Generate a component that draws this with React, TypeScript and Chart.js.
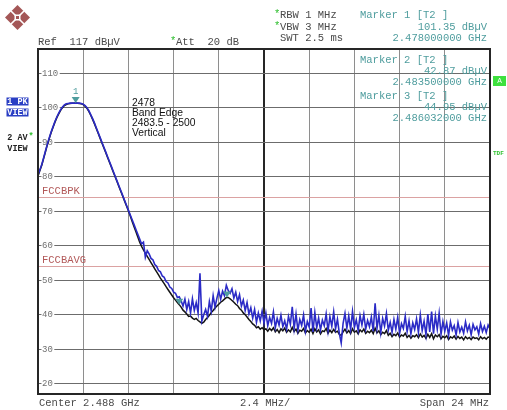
import React, { useEffect, useRef } from "react";
import { Chart, registerables } from "chart.js";

Chart.register(...registerables);

// ---- data (frequency in MHz, level in dBµV) ----
const START_MHZ = 2476;
const STEP_MHZ = 0.1;
const STOP_MHZ = 2500;
const REF_LEVEL = 117;
const BOTTOM_LEVEL = 17;

const peakTrace = [
  80.5, 82, 83.5, 85.5, 87.5, 89.5, 91.3, 93, 94.5, 96,
  97.3, 98.4, 99.4, 100.2, 100.8, 101.1, 101.2, 101.3, 101.3, 101.3,
  101.35, 101.3, 101.3, 101.2, 101, 100.6, 100, 99.1, 98, 96.8,
  95.5, 94.1, 92.7, 91.3, 89.9, 88.5, 87.1, 85.7, 84.3, 82.9,
  81.5, 80.1, 78.7, 77.3, 75.9, 74.5, 73.1, 71.7, 70.3, 68.9,
  67.5, 66.1, 64.7, 63.3, 61.9, 60.5, 61, 56.6, 58.5, 57.6,
  56.3, 55.9, 54.5, 54.0, 52.8, 52.4, 51.2, 50.8, 49.6, 49.2,
  48.0, 47.6, 46.5, 46.2, 45.0, 45.2, 44.0, 42.5, 44.5, 41.5,
  43.8, 40.5, 44.6, 41.2, 43.5, 40.5, 52.0, 38.2, 40.0, 41.5,
  39.5, 43.8, 41.0, 45.5, 42.2, 44.8, 47.0, 44.5, 46.8, 45.5,
  48.5, 47.0, 46.2, 47.5, 44.8, 46.5, 43.8, 45.8, 42.5, 44.2,
  41.2, 43.5, 40.2, 42.0, 39.0, 41.5, 37.8, 40.5, 38.2, 41.0,
  37.5, 40.5, 36.8, 39.2, 37.5, 40.8, 36.2, 38.9, 37.0, 39.8,
  36.5, 38.2, 35.8, 39.5, 37.2, 42.3, 36.0, 40.2, 35.5, 38.6,
  36.9, 39.9, 35.2, 38.0, 36.4, 41.9, 35.0, 40.6, 36.2, 39.0,
  35.6, 38.4, 36.8, 40.2, 35.3, 39.4, 36.6, 40.8, 35.9, 38.7,
  34.6, 31.8, 37.5, 40.4, 36.1, 39.6, 35.7, 40.9, 36.3, 38.5,
  35.4, 39.7, 37.0, 40.1, 35.8, 38.3, 36.5, 39.3, 35.2, 43.3,
  36.0, 39.8, 34.8, 38.9, 36.7, 40.3, 35.5, 37.8, 34.9, 38.6,
  35.8, 39.2, 34.6, 37.4, 36.0, 39.5, 35.1, 38.2, 34.4, 37.6,
  35.7, 38.8, 34.9, 39.9, 35.4, 38.1, 34.2, 40.2, 35.0, 40.9,
  34.5, 39.6, 35.8, 40.4, 34.3, 38.0, 35.2, 37.6, 34.0, 37.9,
  35.5, 36.8, 34.1, 37.7, 35.0, 36.4, 34.6, 37.9, 35.3, 36.9,
  34.2, 37.2, 35.6, 36.5, 34.4, 37.4, 35.1, 36.6, 34.8, 37.0,
  35.9,
];

const avgTrace = [
  80.2, 81.8, 83.3, 85.3, 87.3, 89.3, 91.1, 92.8, 94.3, 95.8,
  97.1, 98.2, 99.2, 100.0, 100.6, 100.9, 101.1, 101.2, 101.3, 101.3,
  101.35, 101.3, 101.2, 101.1, 100.9, 100.4, 99.8, 98.9, 97.8, 96.6,
  95.3, 93.9, 92.5, 91.1, 89.7, 88.3, 86.9, 85.5, 84.1, 82.7,
  81.3, 79.9, 78.5, 77.1, 75.7, 74.3, 72.9, 71.5, 70.1, 68.6,
  67.0, 65.5, 64.0, 62.5, 61.0, 59.8, 58.8, 57.8, 56.9, 56.0,
  55.1, 54.2, 53.3, 52.4, 51.5, 50.6, 49.8, 49.0, 48.1, 47.3,
  46.5, 45.7, 44.9, 44.2, 43.5, 42.9, 42.2, 41.3, 40.8, 40.2,
  39.5, 39.6, 39.0, 38.6, 38.9, 38.3, 37.9, 37.5, 37.8, 38.6,
  39.2, 39.8, 40.6, 41.2, 41.9, 42.5, 43.0, 43.6, 44.0, 44.5,
  44.95, 45.0, 44.6, 44.1, 43.6, 43.0, 42.6, 41.8, 41.3, 40.5,
  40.0, 39.3, 38.6, 38.0, 37.3, 36.9, 36.2, 36.5, 35.8, 36.2,
  35.6, 35.9, 35.2, 36.0, 35.4, 36.2, 35.0, 35.7, 34.8, 35.9,
  35.3, 36.1, 34.9, 35.6, 35.0, 36.3, 35.1, 35.8, 34.6, 35.5,
  35.2, 36.0, 34.7, 35.4, 34.9, 35.8, 34.5, 35.9, 35.0, 35.6,
  34.4, 35.3, 35.1, 36.0, 34.6, 35.5, 34.8, 35.7, 34.9, 35.2,
  34.3, 34.0, 35.0, 35.8, 34.7, 35.4, 34.5, 35.9, 34.9, 35.3,
  34.4, 35.6, 35.0, 35.8, 34.6, 35.2, 34.8, 35.5, 34.5, 36.1,
  34.7, 35.3, 34.2, 34.9, 34.5, 35.4, 34.0, 34.6, 33.6, 34.3,
  33.9, 34.7, 33.5, 34.1, 33.8, 34.6, 33.4, 34.0, 33.2, 33.9,
  33.6, 34.2, 33.3, 34.4, 33.5, 34.0, 33.1, 34.3, 33.4, 34.5,
  33.0, 34.1, 33.6, 34.2, 33.0, 33.7, 33.3, 33.9, 32.8, 33.6,
  33.2, 33.8, 32.9, 33.7, 33.1, 33.5, 32.7, 33.6, 33.0, 33.4,
  32.8, 33.5, 33.1, 33.3, 32.7, 33.6, 33.0, 33.4, 32.9, 33.5,
  33.4,
];

const levelTicks = [110, 100, 90, 80, 70, 60, 50, 40, 30, 20];
const freqGrid = [2476, 2478.4, 2480.8, 2483.2, 2485.6, 2488, 2490.4, 2492.8, 2495.2, 2497.6, 2500];
const limitNames = ["FCCBPK", "FCCBAVG"];
const limitLevels = [74, 54];
const markerNumbers = ["1", "2", "3"];
const markerFreqs = [2478, 2483.5, 2486.032];
const markerLevels = [101.35, 42.87, 44.95];
const markerLevelLabels = ["101.35 dBµV", "42.87 dBµV", "44.95 dBµV"];
const markerFreqLabels = ["2.478000000 GHz", "2.483500000 GHz", "2.486032000 GHz"];
const noteLines = ["2478", "Band Edge", "2483.5 - 2500", "Vertical"];

const MONO = '"Liberation Mono", "DejaVu Sans Mono", monospace';
const SANS = '"Liberation Sans", Arial, sans-serif';
const TEAL = "#4f9d9e";
const HEAD = "#4a4a4a";

function text(
  ctx: CanvasRenderingContext2D,
  s: string,
  x: number,
  y: number,
  color: string,
  font: string,
  align: CanvasTextAlign = "left"
) {
  ctx.fillStyle = color;
  ctx.font = font;
  ctx.textAlign = align;
  ctx.textBaseline = "middle";
  ctx.fillText(s, x, y);
}

const decorPlugin = {
  id: "decor",
  beforeDatasetsDraw(chart: any) {
    const { ctx, chartArea: a, scales } = chart;
    const y = scales.y;
    ctx.save();
    limitLevels.forEach((lv, k) => {
      const py = Math.round(y.getPixelForValue(lv)) + 0.5;
      ctx.strokeStyle = "#dba2a2";
      ctx.lineWidth = 1;
      ctx.beginPath();
      ctx.moveTo(a.left, py);
      ctx.lineTo(a.right, py);
      ctx.stroke();
      text(ctx, limitNames[k], a.left + 4, py - 6, "#b25858", `10.5px ${MONO}`);
    });
    levelTicks.forEach((lv) => {
      const py = y.getPixelForValue(lv);
      const s = String(lv);
      ctx.fillStyle = "#ffffff";
      ctx.fillRect(a.left + 3.5, py - 4, s.length * 5.4 + 2, 8);
      text(ctx, s, a.left + 4, py, "#707070", `9px ${MONO}`);
    });
    ctx.restore();
  },
  afterDatasetsDraw(chart: any) {
    const { ctx, chartArea: a, scales } = chart;
    const x = scales.x;
    const y = scales.y;
    ctx.save();
    // frame
    ctx.strokeStyle = "#262626";
    ctx.lineWidth = 2;
    ctx.strokeRect(a.left, a.top, a.right - a.left, a.bottom - a.top);
    // markers
    markerFreqs.forEach((f, k) => {
      const px = x.getPixelForValue(f);
      const py = y.getPixelForValue(markerLevels[k]);
      ctx.fillStyle = TEAL;
      ctx.beginPath();
      ctx.moveTo(px, py);
      ctx.lineTo(px - 4, py - 6);
      ctx.lineTo(px + 4, py - 6);
      ctx.closePath();
      ctx.fill();
      if (k === 0) text(ctx, markerNumbers[k], px, py - 11, TEAL, `9px ${MONO}`, "center");
    });
    // note text
    noteLines.forEach((s, k) => {
      text(ctx, s, 132, 103 + k * 10.2, "#111", `10.3px ${SANS}`);
    });
    // marker 2 / 3 readouts inside plot
    text(ctx, `Marker ${markerNumbers[1]} [T2 ]`, 360, 60, TEAL, `10.5px ${MONO}`);
    text(ctx, markerLevelLabels[1], 487, 71, TEAL, `10.5px ${MONO}`, "right");
    text(ctx, markerFreqLabels[1], 487, 82, TEAL, `10.5px ${MONO}`, "right");
    text(ctx, `Marker ${markerNumbers[2]} [T2 ]`, 360, 96, TEAL, `10.5px ${MONO}`);
    text(ctx, markerLevelLabels[2], 487, 107, TEAL, `10.5px ${MONO}`, "right");
    text(ctx, markerFreqLabels[2], 487, 118, TEAL, `10.5px ${MONO}`, "right");
    ctx.restore();
  },
  afterDraw(chart: any) {
    const { ctx } = chart;
    ctx.save();
    // logo
    ctx.fillStyle = "#a45757";
    ctx.beginPath();
    ctx.moveTo(17.5, 5);
    ctx.lineTo(30, 17.5);
    ctx.lineTo(17.5, 30);
    ctx.lineTo(5, 17.5);
    ctx.closePath();
    ctx.fill();
    ctx.strokeStyle = "#ffffff";
    ctx.lineWidth = 1.6;
    ctx.beginPath();
    ctx.moveTo(11, 11);
    ctx.lineTo(24, 24);
    ctx.moveTo(24, 11);
    ctx.lineTo(11, 24);
    ctx.stroke();
    ctx.fillStyle = "#ffffff";
    ctx.fillRect(14.5, 14.5, 6, 6);
    ctx.fillStyle = "#a45757";
    ctx.fillRect(16, 16, 3, 3);

    // header
    const f = `10.5px ${MONO}`;
    text(ctx, `Ref  ${REF_LEVEL} dBµV`, 38, 42, HEAD, f);
    text(ctx, "*", 170, 41, "#2fbf2f", f);
    text(ctx, "Att  20 dB", 176, 42, HEAD, f);
    text(ctx, "*", 274, 14, "#2fbf2f", f);
    text(ctx, "RBW 1 MHz", 280, 15, HEAD, f);
    text(ctx, "*", 274, 26, "#2fbf2f", f);
    text(ctx, "VBW 3 MHz", 280, 27, HEAD, f);
    text(ctx, "SWT 2.5 ms", 280, 38, HEAD, f);
    text(ctx, `Marker ${markerNumbers[0]} [T2 ]`, 360, 15, TEAL, f);
    text(ctx, markerLevelLabels[0], 487, 27, TEAL, f, "right");
    text(ctx, markerFreqLabels[0], 487, 38, TEAL, f, "right");

    // footer
    text(ctx, `Center ${((START_MHZ + STOP_MHZ) / 2000).toFixed(3)} GHz`, 39, 403, HEAD, f);
    text(ctx, "2.4 MHz/", 240, 403, HEAD, f);
    text(ctx, `Span ${STOP_MHZ - START_MHZ} MHz`, 489, 403, HEAD, f, "right");

    // trace labels on the left
    ctx.fillStyle = "#2a3fc4";
    ctx.fillRect(6.5, 97.5, 22, 8);
    ctx.fillRect(6.5, 108.5, 22, 8);
    const fb = `bold 8.5px ${MONO}`;
    text(ctx, "1 PK", 17.5, 101.8, "#ffffff", fb, "center");
    text(ctx, "VIEW", 17.5, 112.8, "#ffffff", fb, "center");
    text(ctx, "2 AV", 17.5, 138, "#222", fb, "center");
    text(ctx, "*", 31, 137, "#2fbf2f", fb, "center");
    text(ctx, "VIEW", 17.5, 148.5, "#222", fb, "center");

    // right-side status
    ctx.fillStyle = "#3ee03e";
    ctx.fillRect(493, 76, 13, 10);
    text(ctx, "A", 499.5, 81.3, "#ffffff", `7px ${SANS}`, "center");
    text(ctx, "TDF", 493, 153, "#33c233", `bold 6px ${MONO}`);
    ctx.restore();
  },
};

export default function App() {
  const canvasRef = useRef<HTMLCanvasElement | null>(null);

  useEffect(() => {
    const canvas = canvasRef.current;
    if (!canvas) return;
    const freqs = peakTrace.map((_, i) => +(START_MHZ + i * STEP_MHZ).toFixed(2));
    const chart = new Chart(canvas, {
      type: "line",
      data: {
        datasets: [
          {
            label: "1 PK VIEW",
            data: peakTrace.map((v, i) => ({ x: freqs[i], y: v })),
            borderColor: "#2b2bc6",
            borderWidth: 1.6,
            pointRadius: 0,
            tension: 0,
            order: 0,
          },
          {
            label: "2 AV VIEW",
            data: avgTrace.map((v, i) => ({ x: freqs[i], y: v })),
            borderColor: "#141414",
            borderWidth: 1.5,
            pointRadius: 0,
            tension: 0,
            order: 1,
          },
        ],
      },
      options: {
        responsive: false,
        animation: false,
        events: [],
        layout: { padding: { left: 38, top: 49, right: 17, bottom: 16 } },
        plugins: { legend: { display: false }, tooltip: { enabled: false } },
        scales: {
          x: {
            type: "linear",
            min: START_MHZ,
            max: STOP_MHZ,
            afterBuildTicks: (s: any) => {
              s.ticks = freqGrid.map((v) => ({ value: v }));
            },
            ticks: { display: false },
            border: { display: false },
            grid: {
              drawTicks: false,
              color: (c: any) => (c.index === 5 ? "#262626" : "#8e8e8e"),
              lineWidth: (c: any) => (c.index === 5 ? 2 : 1),
            },
          },
          y: {
            type: "linear",
            min: BOTTOM_LEVEL,
            max: REF_LEVEL,
            afterBuildTicks: (s: any) => {
              s.ticks = levelTicks.map((v) => ({ value: v }));
            },
            ticks: { display: false },
            border: { display: false },
            grid: { drawTicks: false, color: "#6c6c6c", lineWidth: 1 },
          },
        },
      },
      plugins: [decorPlugin],
    });
    return () => chart.destroy();
  }, []);

  return (
    <div style={{ position: "absolute", left: 0, top: 0, width: 507, height: 410, background: "#fff" }}>
      <canvas ref={canvasRef} width={507} height={410} style={{ display: "block" }} />
    </div>
  );
}
